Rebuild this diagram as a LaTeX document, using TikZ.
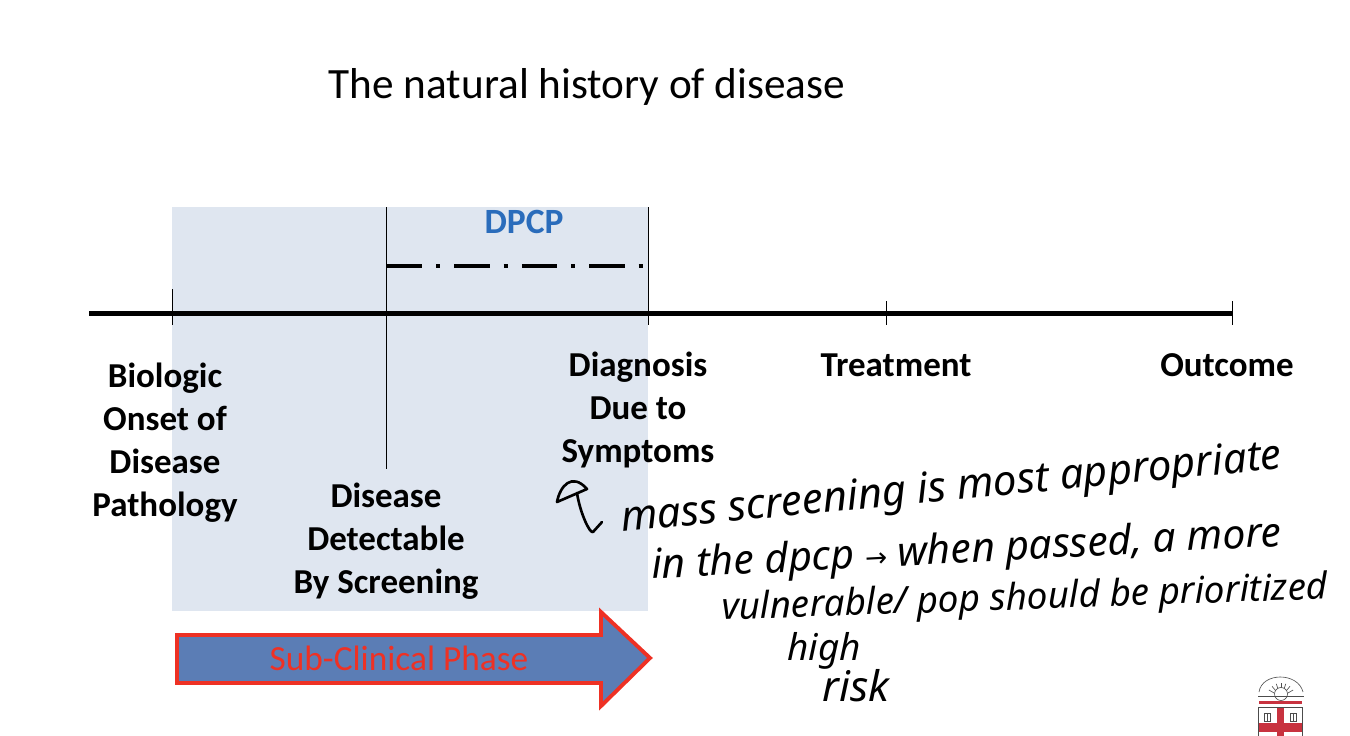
\documentclass[tikz,border=0pt]{standalone}
\usepackage{fontspec}
\setmainfont{Carlito}
\newfontfamily\handfont{Noto Sans}
\newfontfamily\arrowfont{DejaVu Sans}
\usepackage{xcolor}
\usetikzlibrary{arrows.meta, positioning}
\definecolor{panelblue}{HTML}{DFE6F0}
\definecolor{dpcpblue}{HTML}{2A6CBB}
\definecolor{arrowblue}{HTML}{5B7DB5}
\definecolor{phasered}{HTML}{EE3124}
\definecolor{crestred}{HTML}{C8323F}
\tikzset{
  axisline/.style={line width=2.3pt, color=black},
  tickline/.style={line width=0.55pt, color=black},
  event/.style={font=\fontsize{19.9}{24.5}\selectfont\bfseries, align=center, inner sep=0pt},
  note/.style={font=\handfont\itshape\fontsize{#1}{28}\selectfont, inner sep=0pt, anchor=base west},
  pen/.style={line width=1.5pt, line cap=round, line join=round},
  crest/.style={line width=0.35pt, color=black!70},
}
\begin{document}
\begin{tikzpicture}[x=0.2mm, y=-0.2mm]
  \useasboundingbox (0,0) rectangle (1350,736);

  % Sub-clinical panel
  \fill[panelblue] (172,207) rectangle (648,611);

  % Title
  \node[font=\fontsize{24.6}{28}\selectfont, inner sep=0pt] (title) at (587,87) {The natural history of disease};

  % Axis points
  \coordinate (start) at (89,313.5);
  \coordinate (onset) at (172,313.5);
  \coordinate (detect) at (386,313.5);
  \coordinate (diag) at (648,313.5);
  \coordinate (treat) at (886,313.5);
  \coordinate (outcome) at (1232,313.5);

  % Axis and ticks
  \draw[axisline] (start) -- (outcome);
  \draw[tickline] (onset) ++(0,-24) -- ++(0,36);
  \draw[tickline] (detect) ++(0,-106) -- ++(0,261);
  \draw[tickline] (diag) ++(0,-106) -- ++(0,118);
  \draw[tickline] (treat) ++(0,-12) -- ++(0,24);
  \draw[tickline] (outcome) ++(0,-12) -- ++(0,24);

  % DPCP span
  \node[font=\fontsize{20.2}{22}\selectfont\bfseries, text=dpcpblue, inner sep=0pt] (dpcp) at (524,222) {DPCP};
  \coordinate (dpcpa) at (387,266);
  \coordinate (dpcpb) at (646,266);
  \draw[line width=2.1pt, dash pattern=on 20pt off 8pt on 2.4pt off 8pt] (dpcpa) -- (dpcpb);

  % Event labels
  \node[event] (onsetlabel) at (165,443) {Biologic\\Onset of\\Disease\\Pathology};
  \node[event] (detectlabel) at (386,541) {Disease\\Detectable\\By Screening};
  \node[event] (diaglabel) at (638,410) {Diagnosis\\Due to\\Symptoms};
  \node[event] (treatlabel) at (896,365) {Treatment};
  \node[event] (outcomelabel) at (1227,365) {Outcome};

  % Phase arrow
  \draw[line width=2.2pt, color=phasered, fill=arrowblue, line join=miter]
    (177,635) -- (601,635) -- (601,612) -- (650,658) -- (601,706) -- (601,683) -- (177,683) -- cycle;
  \node[font=\fontsize{20.1}{22}\selectfont, text=phasered, inner sep=0pt] (phase) at (399,658) {Sub-Clinical Phase};

  % Handwritten notes
  \draw[pen] (557,502) .. controls (560,486) and (572,472) .. (587,489) -- cycle;
  \draw[pen] (577,493) .. controls (580,513) and (590,534) .. (593,532) -- (602,522);
  \node[note=23.9, rotate=5.5] (noteone) at (622,532) {mass screening is most appropriate};
  \node[note=23.3, rotate=3] (notetwo) at (652,579) {in the dpcp {\arrowfont\upshape\fontsize{15}{18}\selectfont →} when passed, a more};
  \node[note=21, rotate=2] (notethree) at (722,620) {vulnerable/ pop should be prioritized};
  \node[note=21] (notehigh) at (787,660) {high};
  \node[note=24] (noterisk) at (822,701) {risk};

  % Crest
  \draw[crest] (1259,692) .. controls (1262,672) and (1298,672) .. (1303,692);
  \foreach \ang in {30,50,...,150} {
    \draw[crest] (1281,697) -- ++({-\ang}:14);
  }
  \fill[white] (1281,694) circle[radius=6.5];
  \draw[crest] (1281,694) circle[radius=6.5];
  \draw[crest] (1258,696) -- (1304,696);
  \fill[crestred] (1259,701) rectangle (1302,704);
  \draw[crest, fill=white] (1258.5,707.5) rectangle (1302.5,736);
  \fill[crestred] (1259,723) rectangle (1302,732);
  \fill[crestred] (1277,708) rectangle (1284,736);
  \foreach \bx in {1265,1291} {
    \draw[crest] (\bx-1,713) rectangle (\bx+5,721);
    \draw[crest] (\bx+2,713) -- (\bx+2,721);
  }
\end{tikzpicture}
\end{document}
